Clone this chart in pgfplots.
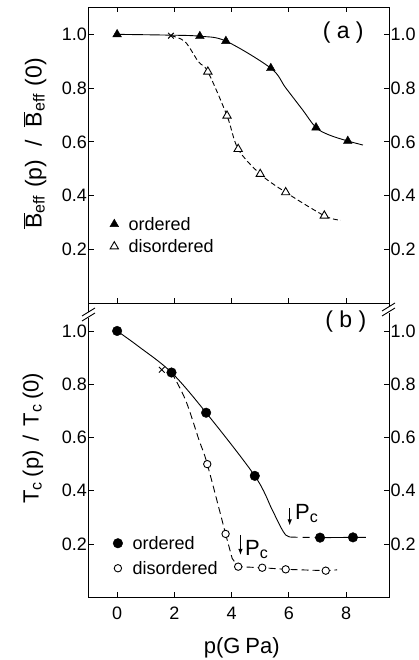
\documentclass[border=0pt]{standalone}
\usepackage{fontspec}
\setmainfont{Liberation Sans}
\usepackage{pgfplots}
\pgfplotsset{compat=1.18}
\usetikzlibrary{arrows.meta}
\newcommand\tickfont{\fontsize{18}{20}\selectfont}
\newcommand\labfont{\fontsize{22}{24}\selectfont}
\newcommand\panfont{\fontsize{23}{25}\selectfont}
\newcommand\sub[1]{\raisebox{-3pt}{\fontsize{16}{16}\selectfont #1}}
\begin{document}
\begin{tikzpicture}[x=1pt,y=1pt]
\pgfplotsset{
  common/.style={
    scale only axis, width=300.5pt,
    xmin=-1, xmax=9.5, ymin=0,
    xtick={0,2,4,6,8}, ytick={0.2,0.4,0.6,0.8,1.0},
    tick align=inside, major tick length=5pt,
    axis line style={line width=0.9pt},
    every tick/.style={line width=0.9pt, black},
    /pgf/number format/assume math mode=true,
    yticklabel style={/pgf/number format/fixed, /pgf/number format/fixed zerofill, /pgf/number format/precision=1, inner sep=1.5pt},
    every tick label/.append style={font=\tickfont},
    legend style={draw=none, fill=none, font=\tickfont, inner sep=0pt, outer sep=0pt, column sep=8pt,
      nodes={inner sep=2pt, text height=13pt, text depth=1pt}},
    legend cell align=left,
  },
  rightlab/.style={common, hide x axis, axis y line*=right, ytick pos=right},
  crv/.style={black, line width=0.9pt, smooth, tension=0.55, forget plot},
}
% ---------- panel (a)
\begin{axis}[common, at={(88.5pt,357pt)}, anchor=south west, height=295.5pt, ymax=1.1,
  xtick pos=both, xticklabels={}, ytick pos=both, yticklabel pos=left,
  ylabel={\fontsize{23}{25}\selectfont $\overline{\mbox{B}}$\sub{eff}\hspace{8pt}(p)\hspace{13pt}/\hspace{13pt}$\overline{\mbox{B}}$\sub{eff}\hspace{8pt}(0)},
  every axis y label/.style={at={(axis description cs:-0.178,0.54)}, rotate=90, anchor=center},
  legend style={at={(axis cs:-0.25,0.252)}, anchor=west, row sep=4.3pt}]
\addplot[crv] coordinates {(0,1.0) (1.88,0.997) (2.89,0.993) (3.80,0.975) (5.37,0.874) (5.89,0.801) (6.48,0.719) (6.95,0.653) (7.42,0.625) (8.06,0.603) (8.59,0.588)};
\addplot[crv, dash pattern=on 5pt off 3pt] coordinates {(1.88,0.995) (2.37,0.973) (2.84,0.898) (3.17,0.861) (3.84,0.697) (4.23,0.573) (5.0,0.480) (5.89,0.412) (7.24,0.325) (7.82,0.308)};
\addplot[only marks, mark=x, mark size=4pt, line width=0.9pt, forget plot] coordinates {(1.88,0.995)};
\addplot[only marks, mark=triangle*, mark size=5pt, black, mark options={fill=black}] coordinates {(0,1.0) (2.89,0.993) (3.80,0.975) (5.37,0.874) (6.95,0.653) (8.06,0.603)};
\addlegendentry{ordered}
\addplot[only marks, mark=triangle*, mark size=4.8pt, black, mark options={fill=white, line width=0.9pt}] coordinates {(3.17,0.861) (3.84,0.697) (4.23,0.573) (5.0,0.480) (5.89,0.412) (7.24,0.325)};
\addlegendentry{disordered}
\node[font=\panfont] at (axis cs:7.9,1.005) {( a )};
\end{axis}
\begin{axis}[rightlab, at={(88.5pt,357pt)}, anchor=south west, height=295.5pt, ymax=1.1]
\addplot[draw=none] coordinates {(0,0.5)};
\end{axis}
% ---------- panel (b)
\begin{axis}[common, at={(88.5pt,62.7pt)}, anchor=south west, height=294.3pt, ymax=1.105,
  xtick pos=bottom, ytick pos=both, yticklabel pos=left,
  xticklabel style={yshift=-6pt},
  xlabel={\labfont p(G\hspace{5pt}Pa)},
  every axis x label/.style={at={(axis description cs:0.51,-0.17)}, anchor=center},
  ylabel={\labfont T\sub{c}\hspace{5pt}(p)\hspace{9pt}/\hspace{9pt}T\sub{c}\hspace{5pt}(0)},
  every axis y label/.style={at={(axis description cs:-0.185,0.541)}, rotate=90, anchor=center},
  legend style={at={(axis cs:-0.14,0.156)}, anchor=west, row sep=7pt}]
\addplot[crv] coordinates {(0,1.0) (0.76,0.941) (1.90,0.844) (3.11,0.693) (4.81,0.456) (5.42,0.328) (5.71,0.265) (5.89,0.234) (6.06,0.226)};
\addplot[black, line width=0.9pt, dash pattern=on 7pt off 5pt, forget plot] coordinates {(6.06,0.226) (7.09,0.224)};
\addplot[black, line width=0.9pt, forget plot] coordinates {(7.09,0.224) (8.24,0.225) (8.69,0.225)};
\addplot[crv, dash pattern=on 7pt off 4pt] coordinates {(1.90,0.844) (2.39,0.741) (2.86,0.591) (3.15,0.50) (3.79,0.238)};
\addplot[black, line width=0.9pt, dash pattern=on 7pt off 4pt, forget plot] coordinates {(3.79,0.238) (4.02,0.146) (4.23,0.115) (5.07,0.111) (5.89,0.105) (7.29,0.10) (7.69,0.103)};
\addplot[only marks, mark=x, mark size=4pt, line width=0.9pt, forget plot] coordinates {(1.56,0.854)};
\addplot[only marks, mark=*, mark size=4.8pt, black] coordinates {(0,1.0) (1.90,0.844) (3.11,0.693) (4.81,0.456) (7.09,0.224) (8.24,0.225)};
\addlegendentry{ordered}
\addplot[only marks, mark=*, mark size=3.7pt, black, mark options={fill=white, line width=0.9pt}] coordinates {(3.15,0.50) (3.79,0.238) (4.23,0.115) (5.07,0.111) (5.89,0.105) (7.29,0.10)};
\addlegendentry{disordered}
\draw[line width=0.9pt, -{Latex[length=6pt,width=4.5pt]}] (axis cs:6.03,0.335) -- (axis cs:6.03,0.27);
\draw[line width=0.9pt, -{Latex[length=6pt,width=4.5pt]}] (axis cs:4.31,0.234) -- (axis cs:4.31,0.159);
\node[font=\labfont] at (axis cs:6.62,0.315) {P\sub{c}};
\node[font=\labfont] at (axis cs:4.87,0.181) {P\sub{c}};
\node[font=\panfont] at (axis cs:7.99,1.035) {( b )};
\end{axis}
\begin{axis}[rightlab, at={(88.5pt,62.7pt)}, anchor=south west, height=294.3pt, ymax=1.105]
\addplot[draw=none] coordinates {(0,0.5)};
\end{axis}
% break marks
\fill[white] (85pt,342pt) rectangle (92pt,348pt);
\draw[line width=0.9pt] (82pt,339pt) -- (95pt,347pt);
\draw[line width=0.9pt] (82pt,344pt) -- (95pt,352pt);
\fill[white] (385.5pt,347pt) rectangle (392.5pt,353pt);
\draw[line width=0.9pt] (382pt,344pt) -- (395pt,352pt);
\draw[line width=0.9pt] (382pt,349pt) -- (395pt,357pt);
\pgfresetboundingbox
\useasboundingbox (0pt,0pt) rectangle (419pt,660pt);
\end{tikzpicture}
\end{document}
